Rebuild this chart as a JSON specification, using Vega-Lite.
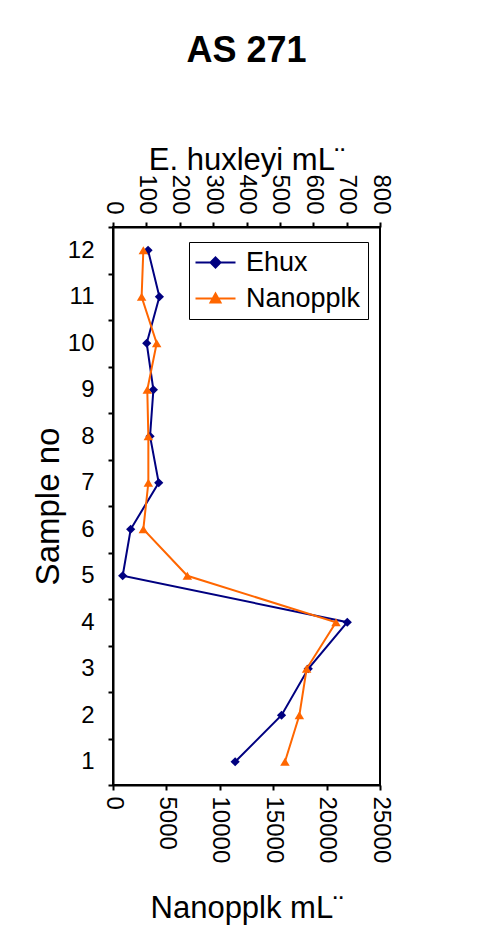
{
  "$schema": "https://vega.github.io/schema/vega-lite/v6.json",
  "width": 267,
  "height": 558,
  "autosize": {"type": "none"},
  "padding": {"left": 113, "top": 227, "right": 99, "bottom": 161},
  "background": "white",
  "title": {"text": "AS 271", "fontSize": 36, "fontWeight": "bold", "font": "Liberation Sans", "color": "black", "anchor": "middle", "offset": 75},
  "config": {
    "font": "Liberation Sans",
    "view": {"stroke": "black", "strokeWidth": 2},
    "axis": {"domainColor": "black", "domainWidth": 2, "tickColor": "black", "tickWidth": 2, "tickSize": 5, "labelColor": "black", "titleColor": "black", "labelFont": "Liberation Sans", "titleFont": "Liberation Sans", "titleFontWeight": "normal", "labelFontSize": 24, "titleFontSize": 31, "grid": false}
  },
  "data": {"values": [
    {"sample": 1, "ehux": 366, "nano": 16100},
    {"sample": 2, "ehux": 505, "nano": 17450},
    {"sample": 3, "ehux": 585, "nano": 18130},
    {"sample": 4, "ehux": 702, "nano": 20880},
    {"sample": 5, "ehux": 29, "nano": 6960},
    {"sample": 6, "ehux": 53, "nano": 2840},
    {"sample": 7, "ehux": 137, "nano": 3310},
    {"sample": 8, "ehux": 111, "nano": 3310},
    {"sample": 9, "ehux": 121, "nano": 3210},
    {"sample": 10, "ehux": 101, "nano": 4090},
    {"sample": 11, "ehux": 139, "nano": 2680},
    {"sample": 12, "ehux": 105, "nano": 2840}
  ]},
  "encoding": {
    "y": {"field": "sample", "type": "ordinal", "sort": "descending", "bandPosition": 0.5,
      "scale": {"type": "band", "paddingInner": 0, "paddingOuter": 0},
      "axis": {"title": "Sample no", "titleFontSize": 33, "tickBand": "extent", "labelAngle": 0, "labelPadding": 14, "titlePadding": 2}},
    "order": {"field": "sample", "type": "quantitative"}
  },
  "layer": [
    {
      "encoding": {
        "x": {"field": "ehux", "type": "quantitative", "scale": {"domain": [0, 800], "nice": false},
          "axis": {"orient": "top", "title": "E. huxleyi mL¨", "values": [0, 100, 200, 300, 400, 500, 600, 700, 800], "labelAngle": 90, "labelAlign": "right", "labelBaseline": "middle", "labelPadding": 8, "titlePadding": -3}},
        "color": {"datum": "Ehux", "type": "nominal",
          "scale": {"domain": ["Ehux", "Nanopplk"], "range": ["#000080", "#ff6600"]},
          "legend": {"title": null, "orient": "none", "legendX": 76, "legendY": 15, "strokeColor": "black", "fillColor": "white", "padding": 7, "symbolSize": 625, "symbolOffset": 6, "labelFontSize": 27, "labelFont": "Liberation Sans", "labelColor": "black", "rowPadding": 8, "labelOffset": 17, "symbolStrokeWidth": 2,
            "encode": {"symbols": {"update": {
              "size": {"value": 625},
              "shape": {"signal": "datum.value === 'Ehux' ? 'M-1.6,0H1.6M0,-0.4L0.4,0L0,0.4L-0.4,0Z' : 'M-1.6,0H1.6M0,-0.4L0.4,0.32L-0.4,0.32Z'"},
              "fill": {"signal": "datum.value === 'Ehux' ? '#000080' : '#ff6600'"},
              "stroke": {"signal": "datum.value === 'Ehux' ? '#000080' : '#ff6600'"},
              "opacity": {"value": 1}
            }}}}}
      },
      "layer": [
        {"mark": {"type": "line", "strokeWidth": 2}},
        {"mark": {"type": "point", "shape": "diamond", "filled": true, "size": 85, "opacity": 1}}
      ]
    },
    {
      "encoding": {
        "x": {"field": "nano", "type": "quantitative", "scale": {"domain": [0, 25000], "nice": false},
          "axis": {"orient": "bottom", "title": "Nanopplk mL¨", "values": [0, 5000, 10000, 15000, 20000, 25000], "format": "d", "labelAngle": 90, "labelAlign": "left", "labelBaseline": "middle", "labelPadding": 6, "titlePadding": 31}},
        "color": {"datum": "Nanopplk", "type": "nominal"}
      },
      "layer": [
        {"mark": {"type": "line", "strokeWidth": 2}},
        {"mark": {"type": "point", "shape": "triangle-up", "filled": true, "size": 90, "opacity": 1}}
      ]
    }
  ],
  "resolve": {"scale": {"x": "independent"}, "axis": {"x": "independent"}}
}
